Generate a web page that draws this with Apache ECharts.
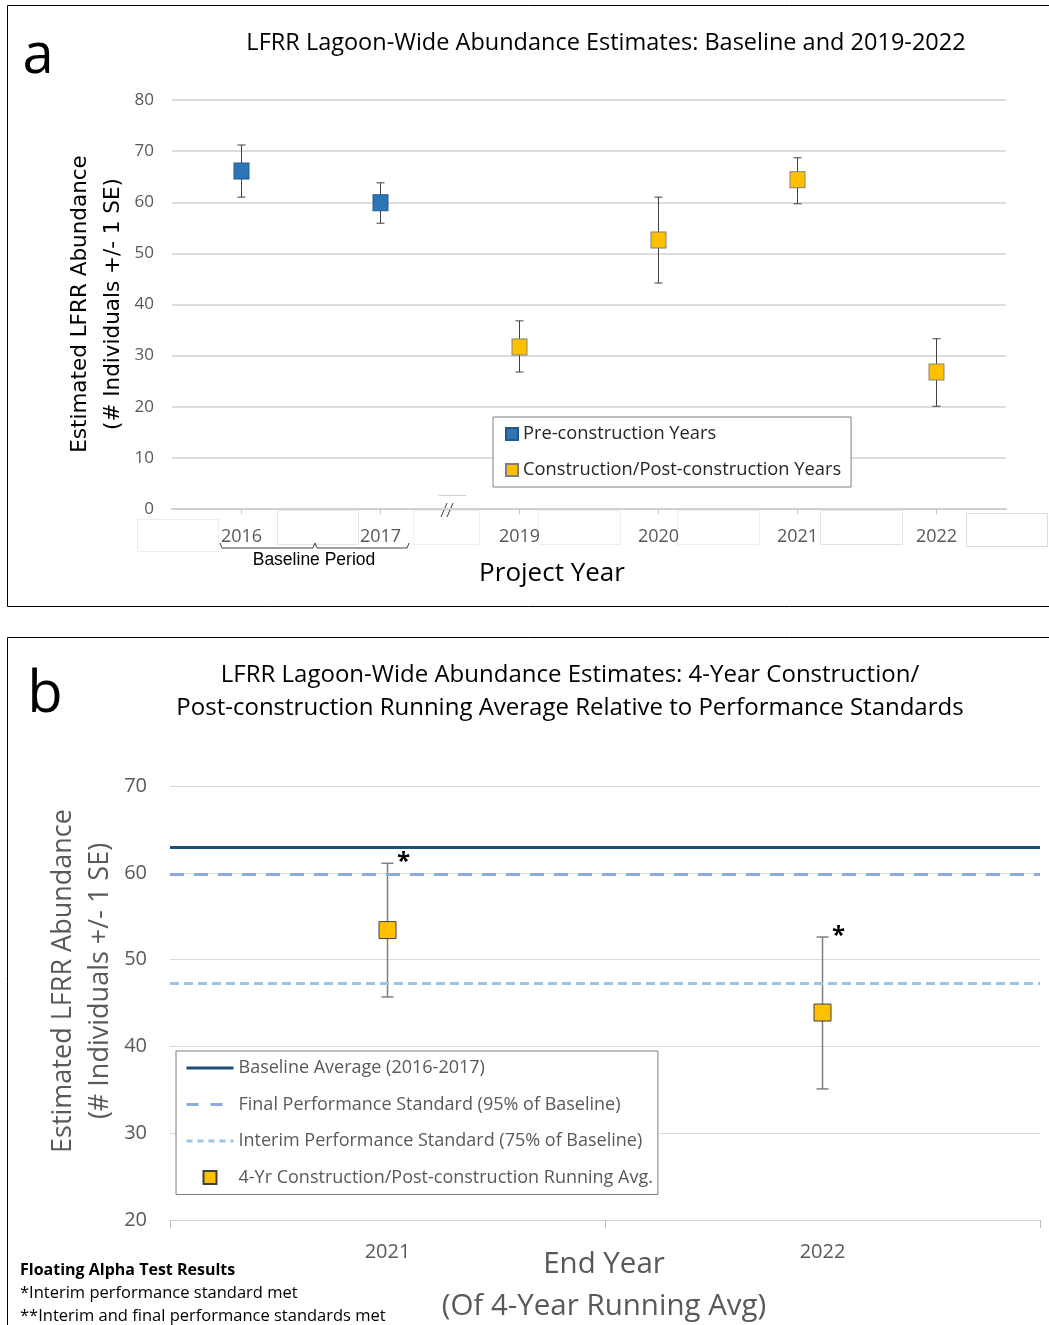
<!DOCTYPE html>
<html><head><meta charset="utf-8">
<script src="https://cdn.jsdelivr.net/npm/echarts@6/dist/echarts.min.js"></script>
<style>html,body{margin:0;padding:0;background:#fff}#c{width:1049px;height:1325px}</style>
</head><body><div id="c"></div>
<script>
// ---- Panel a data ----
const catsA = ['2016', '2017', '2019', '2020', '2021', '2022'];
const groupA = ['pre', 'pre', 'post', 'post', 'post', 'post'];
const meanA = [66.1, 59.9, 31.7, 52.6, 64.4, 26.8];
const lowA = [61.0, 55.9, 26.8, 44.2, 59.7, 20.1];
const highA = [71.2, 63.8, 36.8, 61.0, 68.7, 33.3];
const yTicksA = [0, 10, 20, 30, 40, 50, 60, 70, 80];

// ---- Panel b data ----
const catsB = ['2021', '2022'];
const meanB = [53.4, 43.9];
const lowB = [45.7, 35.1];
const highB = [61.1, 52.6];
const starsB = ['*', '*'];
const baselineAvg = 63.0;
const finalStd = 59.85;
const interimStd = 47.25;
const yTicksB = [20, 30, 40, 50, 60, 70];

const nameA1 = 'Pre-construction Years';
const nameA2 = 'Construction/Post-construction Years';
const nameB1 = 'Baseline Average (2016-2017)';
const nameB2 = 'Final Performance Standard (95% of Baseline)';
const nameB3 = 'Interim Performance Standard (75% of Baseline)';
const nameB4 = '4-Yr Construction/Post-construction Running Avg.';

const F = "'Open Sans', sans-serif";
const gray = '#595959';
const noSym = {color: 'rgba(0,0,0,0)', borderColor: 'rgba(0,0,0,0)', borderWidth: 0};

const chart = echarts.init(document.getElementById('c'), null, {renderer: 'canvas'});

function errRender(cap, color, width, stars) {
  return function (params, api) {
    const lo = api.coord([api.value(0), api.value(1)]);
    const hi = api.coord([api.value(0), api.value(2)]);
    const x = lo[0];
    const st = {stroke: color, lineWidth: width};
    const children = [
      {type: 'line', shape: {x1: x, y1: lo[1], x2: x, y2: hi[1]}, style: st},
      {type: 'line', shape: {x1: x - cap, y1: lo[1], x2: x + cap, y2: lo[1]}, style: st},
      {type: 'line', shape: {x1: x - cap, y1: hi[1], x2: x + cap, y2: hi[1]}, style: st}
    ];
    if (stars) {
      children.push({type: 'text', x: x + 16, y: hi[1] - 1,
        style: {text: stars[params.dataIndex], font: "bold 24px " + F, fill: '#000', align: 'center', verticalAlign: 'middle'}});
    }
    return {type: 'group', children: children};
  };
}

const option = {
  animation: false,
  backgroundColor: '#fff',
  grid: [
    {left: 172, top: 100, width: 834, height: 409},
    {left: 170, top: 786, width: 870, height: 434}
  ],
  xAxis: [
    {type: 'category', gridIndex: 0, data: catsA, boundaryGap: true,
      axisLine: {lineStyle: {color: '#d0d0d0', width: 2}},
      axisTick: {show: true, alignWithLabel: true, length: 5, lineStyle: {color: '#c8c8c8'}},
      axisLabel: {margin: 19, color: gray, fontSize: 18, fontFamily: F}},
    {type: 'category', gridIndex: 1, data: catsB, boundaryGap: true,
      axisLine: {lineStyle: {color: '#d0d0d0', width: 1}},
      axisTick: {show: true, length: 8, lineStyle: {color: '#bfbfbf'}},
      axisLabel: {margin: 22, color: gray, fontSize: 20, fontFamily: F}}
  ],
  yAxis: [
    {type: 'value', gridIndex: 0, min: yTicksA[0], max: yTicksA[yTicksA.length - 1], interval: 10,
      axisLine: {show: false}, axisTick: {show: false},
      splitLine: {lineStyle: {color: '#d0d0d0', width: 1.5}},
      axisLabel: {margin: 18, color: gray, fontSize: 17, fontFamily: F}},
    {type: 'value', gridIndex: 1, min: yTicksB[0], max: yTicksB[yTicksB.length - 1], interval: 10,
      axisLine: {show: false}, axisTick: {show: false},
      splitLine: {lineStyle: {color: '#d9d9d9', width: 1}},
      axisLabel: {margin: 23, color: gray, fontSize: 20, fontFamily: F}}
  ],
  legend: [
    {orient: 'vertical', left: 493, top: 417, data: [nameA1, nameA2], icon: 'rect',
      itemWidth: 12, itemHeight: 12, itemGap: 16, padding: [7, 10, 7, 12],
      borderColor: '#7f7f7f', borderWidth: 1, backgroundColor: '#fff',
      textStyle: {fontFamily: F, fontSize: 18.3, color: '#262626', lineHeight: 20}},
    {orient: 'vertical', left: 176, top: 1051,
      data: [
        {name: nameB1, itemStyle: noSym, lineStyle: {width: 3, color: '#1F4E79', type: 'solid'}},
        {name: nameB2, itemStyle: noSym, lineStyle: {width: 3, color: '#8EA9DB', type: [12, 12]}},
        {name: nameB3, itemStyle: noSym, lineStyle: {width: 3, color: '#9DC3E6', type: [6, 5]}},
        {name: nameB4, icon: 'path://M0,0h10v10h-10Z'}
      ],
      itemWidth: 47, itemHeight: 13, itemGap: 16.5, padding: [7, 5, 7, 9], symbolKeepAspect: true,
      borderColor: '#7f7f7f', borderWidth: 1, backgroundColor: '#fff',
      textStyle: {fontFamily: F, fontSize: 18, color: gray, lineHeight: 20}}
  ],
  series: [
    {type: 'custom', xAxisIndex: 0, yAxisIndex: 0, z: 2,
      renderItem: errRender(4, '#404040', 1, null),
      data: catsA.map((c, i) => [i, lowA[i], highA[i]])},
    {type: 'scatter', name: nameA1, xAxisIndex: 0, yAxisIndex: 0, z: 5,
      symbol: 'rect', symbolSize: [15, 16],
      itemStyle: {color: '#2E75B6', borderColor: '#24598a', borderWidth: 1, opacity: 1},
      data: catsA.map((c, i) => groupA[i] === 'pre' ? [i, meanA[i]] : [i, '-'])},
    {type: 'scatter', name: nameA2, xAxisIndex: 0, yAxisIndex: 0, z: 5,
      symbol: 'rect', symbolSize: [15, 16],
      itemStyle: {color: '#FFC000', borderColor: '#808080', borderWidth: 1, opacity: 1},
      data: catsA.map((c, i) => groupA[i] === 'post' ? [i, meanA[i]] : [i, '-'])},

    {type: 'line', name: nameB1, xAxisIndex: 1, yAxisIndex: 1, symbol: 'none', data: [],
      lineStyle: {color: '#1F4E79', width: 3, type: 'solid'}, itemStyle: {color: '#1F4E79'},
      markLine: {silent: true, symbol: 'none', label: {show: false},
        lineStyle: {color: '#1F4E79', width: 3, type: 'solid'}, data: [{yAxis: baselineAvg}]}},
    {type: 'line', name: nameB2, xAxisIndex: 1, yAxisIndex: 1, symbol: 'none', data: [],
      lineStyle: {color: '#8EA9DB', width: 3, type: [13, 11]}, itemStyle: {color: '#8EA9DB'},
      markLine: {silent: true, symbol: 'none', label: {show: false},
        lineStyle: {color: '#8EA9DB', width: 3, type: [14, 10]}, data: [{yAxis: finalStd}]}},
    {type: 'line', name: nameB3, xAxisIndex: 1, yAxisIndex: 1, symbol: 'none', data: [],
      lineStyle: {color: '#9DC3E6', width: 3, type: [7, 5]}, itemStyle: {color: '#9DC3E6'},
      markLine: {silent: true, symbol: 'none', label: {show: false},
        lineStyle: {color: '#9DC3E6', width: 3, type: [9, 5]}, data: [{yAxis: interimStd}]}},
    {type: 'custom', xAxisIndex: 1, yAxisIndex: 1, z: 3,
      renderItem: errRender(6, '#7f7f7f', 1.5, starsB),
      data: catsB.map((c, i) => [i, lowB[i], highB[i]])},
    {type: 'scatter', name: nameB4, xAxisIndex: 1, yAxisIndex: 1, z: 6,
      symbol: 'rect', symbolSize: 17,
      itemStyle: {color: '#FFC000', borderColor: '#404040', borderWidth: 1, opacity: 1},
      data: catsB.map((c, i) => [i, meanB[i]])}
  ],
  graphic: [
    // panel borders
    {type: 'rect', shape: {x: 7.5, y: 5.5, width: 1100, height: 601}, style: {fill: 'none', stroke: '#000', lineWidth: 1}, z: 100},
    {type: 'rect', shape: {x: 7.5, y: 637.5, width: 1100, height: 800}, style: {fill: 'none', stroke: '#000', lineWidth: 1}, z: 100},
    // faint leftover boxes below axis of panel a
    {type: 'rect', shape: {x: 137.5, y: 519.5, width: 81, height: 32}, style: {fill: 'none', stroke: '#ececec', lineWidth: 1}},
    {type: 'rect', shape: {x: 277.5, y: 510.5, width: 81, height: 34}, style: {fill: 'none', stroke: '#e6e6e6', lineWidth: 1}},
    {type: 'rect', shape: {x: 413.5, y: 510.5, width: 66, height: 34}, style: {fill: '#fff', stroke: '#eeeeee', lineWidth: 1}},
    {type: 'rect', shape: {x: 538.5, y: 510.5, width: 82, height: 34}, style: {fill: 'none', stroke: '#eeeeee', lineWidth: 1}},
    {type: 'rect', shape: {x: 677.5, y: 510.5, width: 82, height: 34}, style: {fill: 'none', stroke: '#eeeeee', lineWidth: 1}},
    {type: 'rect', shape: {x: 820.5, y: 510.5, width: 82, height: 34}, style: {fill: 'none', stroke: '#e2e2e2', lineWidth: 1}},
    {type: 'rect', shape: {x: 966.5, y: 513.5, width: 81, height: 33}, style: {fill: 'none', stroke: '#dadada', lineWidth: 1}},
    // axis break
    {type: 'line', shape: {x1: 439, y1: 495.5, x2: 466, y2: 495.5}, style: {stroke: '#d0d0d0', lineWidth: 1}},
    {type: 'line', shape: {x1: 441, y1: 517, x2: 447, y2: 503}, style: {stroke: '#404040', lineWidth: 1}},
    {type: 'line', shape: {x1: 447, y1: 517, x2: 453, y2: 503}, style: {stroke: '#404040', lineWidth: 1}},
    // baseline bracket
    {type: 'polyline', shape: {points: [[220, 543], [222, 548], [313, 548], [315, 543], [317, 548], [407, 548], [409, 543]]},
      style: {fill: 'none', stroke: '#404040', lineWidth: 1}},
    // texts panel a
    {type: 'text', x: 38, y: 57, style: {text: 'a', font: '56px ' + F, fill: '#000', align: 'center', verticalAlign: 'middle'}},
    {type: 'text', x: 606, y: 43, style: {text: 'LFRR Lagoon-Wide Abundance Estimates: Baseline and 2019-2022', font: '23.5px ' + F, fill: '#000', align: 'center', verticalAlign: 'middle'}},
    {type: 'text', x: 80, y: 304, rotation: Math.PI / 2, style: {text: 'Estimated LFRR Abundance', font: "21.5px 'DejaVu Sans'", fill: '#000', align: 'center', verticalAlign: 'middle'}},
    {type: 'text', x: 113, y: 304, rotation: Math.PI / 2, style: {text: '(# Individuals +/- 1 SE)', font: "21.5px 'DejaVu Sans'", fill: '#000', align: 'center', verticalAlign: 'middle'}},
    {type: 'text', x: 314, y: 560, style: {text: 'Baseline Period', font: "17.5px 'Liberation Sans'", fill: '#000', align: 'center', verticalAlign: 'middle'}},
    {type: 'text', x: 552, y: 574, style: {text: 'Project Year', font: '26px ' + F, fill: '#000', align: 'center', verticalAlign: 'middle'}},
    // texts panel b
    {type: 'text', x: 45, y: 695, style: {text: 'b', font: '58px ' + F, fill: '#000', align: 'center', verticalAlign: 'middle'}},
    {type: 'text', x: 570, y: 675, style: {text: 'LFRR Lagoon-Wide Abundance Estimates: 4-Year Construction/', font: '24px ' + F, fill: '#000', align: 'center', verticalAlign: 'middle'}},
    {type: 'text', x: 570, y: 708, style: {text: 'Post-construction Running Average Relative to Performance Standards', font: '24px ' + F, fill: '#000', align: 'center', verticalAlign: 'middle'}},
    {type: 'text', x: 63, y: 981, rotation: Math.PI / 2, style: {text: 'Estimated LFRR Abundance', font: '27px ' + F, fill: gray, align: 'center', verticalAlign: 'middle'}},
    {type: 'text', x: 100, y: 981, rotation: Math.PI / 2, style: {text: '(# Individuals +/- 1 SE)', font: '27px ' + F, fill: gray, align: 'center', verticalAlign: 'middle'}},
    {type: 'text', x: 604, y: 1265, style: {text: 'End Year', font: '29.5px ' + F, fill: gray, align: 'center', verticalAlign: 'middle'}},
    {type: 'text', x: 604, y: 1307, style: {text: '(Of 4-Year Running Avg)', font: '29.5px ' + F, fill: gray, align: 'center', verticalAlign: 'middle'}},
    {type: 'text', x: 20, y: 1270, style: {text: 'Floating Alpha Test Results', font: 'bold 16px ' + F, fill: '#000', align: 'left', verticalAlign: 'middle'}},
    {type: 'text', x: 20, y: 1293, style: {text: '*Interim performance standard met', font: '16.5px ' + F, fill: '#000', align: 'left', verticalAlign: 'middle'}},
    {type: 'text', x: 20, y: 1316, style: {text: '**Interim and final performance standards met', font: '16.5px ' + F, fill: '#000', align: 'left', verticalAlign: 'middle'}}
  ]
};
chart.setOption(option);
</script>
</body></html>
